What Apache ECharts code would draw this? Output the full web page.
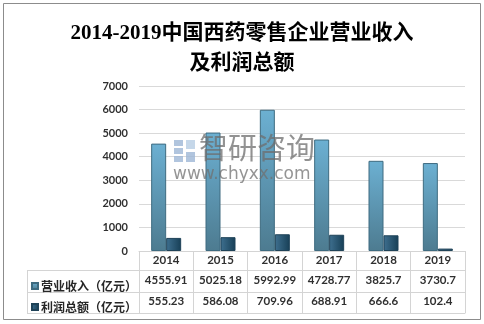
<!DOCTYPE html>
<html><head><meta charset="utf-8">
<script src="https://cdn.jsdelivr.net/npm/echarts@6/dist/echarts.min.js"></script>
<style>html,body{margin:0;padding:0;background:#fff}#c{width:484px;height:324px}</style>
</head><body><div id="c"></div>
<script>
var titleText = '2014-2019中国西药零售企业营业收入\n及利润总额';
var years = ['2014','2015','2016','2017','2018','2019'];
var seriesNames = ['营业收入（亿元）','利润总额（亿元）'];
var revenue = [4555.91, 5025.18, 5992.99, 4728.77, 3825.7, 3730.7];
var profit = [555.23, 586.08, 709.96, 688.91, 666.6, 102.4];
var yTicks = {min: 0, max: 7000, interval: 1000};

var chart = echarts.init(document.getElementById('c'), null, {renderer: 'canvas'});
var lineC = '#d4d4d4';
var tblFont = {fontFamily: 'Lato, "Noto Sans CJK SC"', fontSize: 11.5, fontWeight: 'bold', color: '#303030'};
function tableAxis(data, offset, tickLen, margin, showLabel) {
  return {
    type: 'category', data: data, position: 'bottom', offset: offset, gridIndex: 0,
    axisLine: {show: true, lineStyle: {color: lineC, width: 1}},
    axisTick: {show: tickLen > 0, interval: 0, length: tickLen, lineStyle: {color: lineC}},
    axisLabel: Object.assign({show: showLabel, interval: 0, margin: margin}, tblFont),
    splitLine: {show: false}
  };
}
var g1 = new echarts.graphic.LinearGradient(0, 0, 0, 1, [{offset: 0, color: '#6cb0d2'}, {offset: 1, color: '#4d7b90'}]);
var g2 = new echarts.graphic.LinearGradient(0, 0, 1, 0, [{offset: 0, color: '#3f7090'}, {offset: 1, color: '#173f56'}]);
chart.setOption({
  backgroundColor: '#fff',
  animation: false,
  title: {
    text: titleText, left: 'center', top: 14,
    textStyle: {fontFamily: '"Liberation Serif", "Noto Sans CJK SC"', fontSize: 21, fontWeight: 'bold', color: '#000', lineHeight: 30}
  },
  legend: {
    orient: 'vertical', left: 26, top: 274, itemWidth: 6, itemHeight: 6, itemGap: 7,
    icon: 'rect',
    textStyle: {fontFamily: '"Noto Sans CJK SC"', fontSize: 12, fontWeight: 'bold', color: '#262626', lineHeight: 14, padding: [0, 0, 0, -2]},
    data: seriesNames
  },
  grid: {left: 139, right: 19, top: 86, bottom: 73, containLabel: false},
  xAxis: [
    tableAxis(years, 0, 19, 4, true),
    tableAxis(revenue.map(String), 19, 22, 5, true),
    tableAxis(profit.map(String), 41, 21, 4, true),
    tableAxis(years, 62, 0, 4, false)
  ],
  yAxis: {
    type: 'value', min: yTicks.min, max: yTicks.max, interval: yTicks.interval,
    axisLine: {show: false}, axisTick: {show: false},
    axisLabel: {fontFamily: 'Lato', fontSize: 11, fontWeight: 'bold', color: '#303030', margin: 11, formatter: function (v) { return String(v); }},
    splitLine: {lineStyle: {color: '#d9d9d9'}}
  },
  series: [
    {name: seriesNames[0], type: 'bar', data: revenue, barWidth: 15, barGap: '0%',
     itemStyle: {color: g1, borderColor: '#3e6b80', borderWidth: 1}},
    {name: seriesNames[1], type: 'bar', data: profit, barWidth: 15, barGap: '0%',
     itemStyle: {color: g2, borderColor: '#1f4358', borderWidth: 1}}
  ],
  graphic: [
    {type: 'rect', shape: {x: 3.5, y: 3.5, width: 477, height: 316}, style: {fill: 'none', stroke: '#8c8c8c', lineWidth: 1}, z: -1},
    {type: 'line', shape: {x1: 27, y1: 270.5, x2: 139, y2: 270.5}, style: {stroke: lineC}},
    {type: 'line', shape: {x1: 27, y1: 292.5, x2: 139, y2: 292.5}, style: {stroke: lineC}},
    {type: 'line', shape: {x1: 27, y1: 313.5, x2: 139, y2: 313.5}, style: {stroke: lineC}},
    {type: 'line', shape: {x1: 27.5, y1: 270, x2: 27.5, y2: 314}, style: {stroke: lineC}},
    {type: 'rect', shape: {x: 174, y: 140, width: 9, height: 6}, style: {fill: '#9db7d6', opacity: 0.8}, z: 10},
    {type: 'rect', shape: {x: 174, y: 148, width: 9, height: 6}, style: {fill: '#9db7d6', opacity: 0.8}, z: 10},
    {type: 'rect', shape: {x: 174, y: 156, width: 9, height: 6}, style: {fill: '#9db7d6', opacity: 0.8}, z: 10},
    {type: 'rect', shape: {x: 186, y: 140, width: 9, height: 9}, style: {fill: '#b7cde4', opacity: 0.8}, z: 10},
    {type: 'rect', shape: {x: 186, y: 152, width: 9, height: 10}, style: {fill: '#9db7d6', opacity: 0.8}, z: 10},
    {type: 'text', left: 199, top: 133, style: {text: '智研咨询', font: '29px "Noto Sans CJK SC"', fill: '#6e6e6e', opacity: 0.75}, z: 10},
    {type: 'text', left: 173, top: 166, style: {text: 'www.chyxx.com', font: '17px "DejaVu Sans"', fill: '#707070', opacity: 0.75}, z: 10}
  ]
});
</script></body></html>
